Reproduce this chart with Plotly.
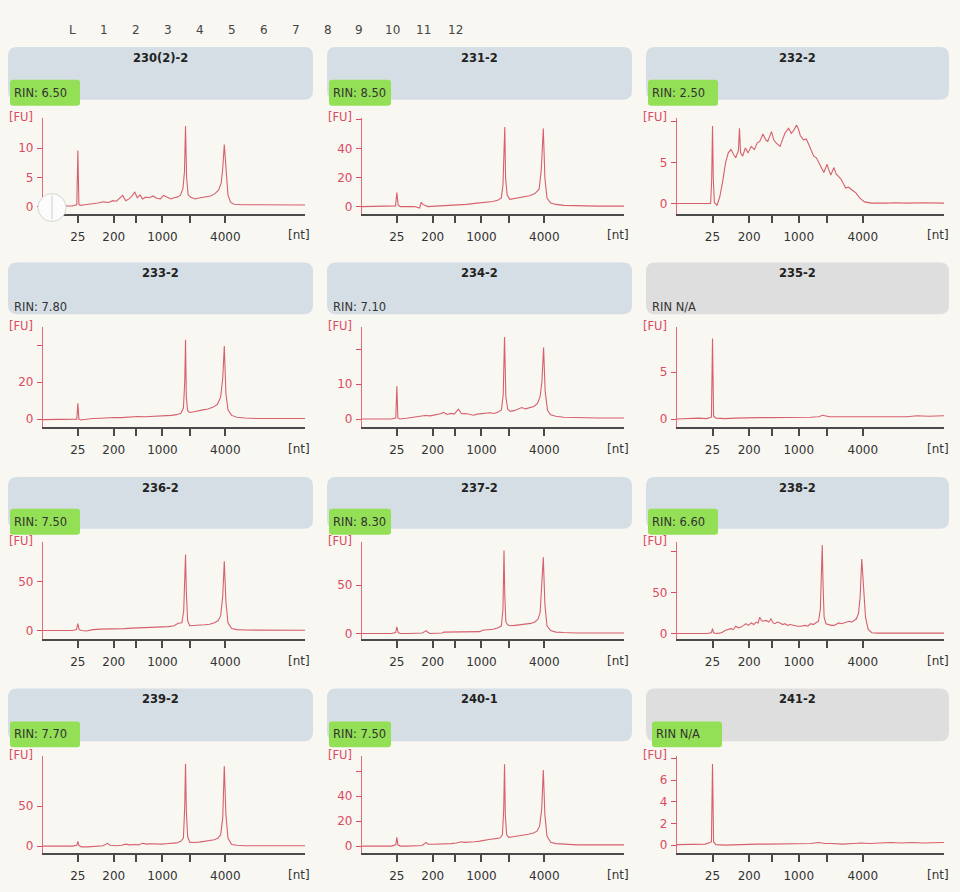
import plotly.graph_objects as go

# ---------------- data ----------------
LANES = ["L", "1", "2", "3", "4", "5", "6", "7", "8", "9", "10", "11", "12"]
TITLES = ["230(2)-2", "231-2", "232-2", "233-2", "234-2", "235-2",
          "236-2", "237-2", "238-2", "239-2", "240-1", "241-2"]
RIN = ["RIN: 6.50", "RIN: 8.50", "RIN: 2.50", "RIN: 7.80", "RIN: 7.10", "RIN N/A",
       "RIN: 7.50", "RIN: 8.30", "RIN: 6.60", "RIN: 7.70", "RIN: 7.50", "RIN N/A"]
HIGHLIGHT = [1, 1, 1, 0, 0, 0, 1, 1, 1, 1, 1, 1]

# ladder: size [nt] vs migration time [s]
LADDER_NT = [25, 200, 500, 1000, 2000, 4000]
LADDER_TIME = [25.65, 32.5, 36.7, 41.8, 47.1, 53.8]
LADDER_LABEL = ["25", "200", "", "1000", "", "4000"]

# y axis ranges and ticks per panel
Y_RANGE = [(-1.2, 15.2), (-4.8, 61.4), (-1.22, 10.5),
           (-4.3, 49.7), (-2.3, 26.3), (-0.85, 9.8),
           (-8.2, 91), (-5.2, 95), (-6.1, 112),
           (-8.75, 112.5), (-5.6, 72), (-0.73, 8.2)]
Y_TICKS = [[0, 5, 10], [0, 20, 40, 60], [0, 5, 10],
           [0, 20, 40], [0, 10, 20], [0, 5],
           [0, 50], [0, 50], [0, 50, 100],
           [0, 50], [0, 20, 40, 60], [0, 2, 4, 6, 8]]
Y_TEXT = [["0", "5", "10"], ["0", "20", "40", ""], ["0", "5", ""],
          ["0", "20", ""], ["0", "10", ""], ["0", "5"],
          ["0", "50"], ["0", "50"], ["0", "50", ""],
          ["0", "50"], ["0", "20", "40", ""], ["0", "2", "4", "6", ""]]

# electropherograms: time [s] and fluorescence [FU]
T1 = [19, 24.6, 25.45, 25.65, 25.85, 26.1, 27.0, 28.0, 29.5, 30.5, 31.5, 32.3, 33.0, 33.6, 34.2, 34.8,
      35.4, 36.0, 36.5, 37.0, 37.5, 38.0, 38.6, 39.3, 40.0, 40.7, 41.4, 42.0, 42.7, 43.4, 44.0, 44.6,
      45.2, 45.7, 46.0, 46.2, 46.4, 46.7, 47.2, 48.0, 49.0, 50.0, 51.0, 51.8, 52.5, 53.0, 53.3, 53.6,
      53.9, 54.3, 54.8, 55.5, 57.0, 60.0, 64.0, 69.0]
V1 = [0.1, 0.1, 0.3, 9.6, 0.4, 0.2, 0.3, 0.4, 0.6, 0.8, 0.7, 1.0, 0.9, 1.4, 1.9, 1.0,
      1.3, 1.8, 2.5, 1.5, 2.0, 1.3, 1.6, 1.5, 1.8, 1.4, 1.3, 1.9, 1.6, 1.3, 1.5, 1.6,
      1.9, 3.0, 6.0, 13.8, 5.0, 2.0, 1.6, 1.3, 1.5, 1.6, 1.8, 2.2, 2.8, 4.0, 6.5, 10.6,
      6.0, 2.0, 0.7, 0.4, 0.3, 0.3, 0.25, 0.25]

T2 = [19, 24.0, 25.4, 25.65, 25.9, 26.3, 27.5, 29.0, 30.0, 30.3, 30.6, 31.0, 31.6, 33.0, 34.5, 36.0,
      37.5, 39.0, 40.5, 41.8, 43.0, 44.0, 45.0, 45.6, 45.9, 46.1, 46.25, 46.4, 46.7, 47.2, 48.0, 49.0,
      50.0, 51.0, 52.0, 52.8, 53.2, 53.6, 53.9, 54.3, 55.0, 56.0, 57.5, 60.0, 64.0, 69.0]
V2 = [0.0, 0.0, 0.5, 9.7, 1.0, 0.0, 0.0, 0.0, -1.0, 3.0, 1.5, 1.0, 0.0, 0.3, 0.5, 1.0,
      1.3, 1.5, 2.2, 2.8, 3.5, 3.5, 4.5, 6.0, 15, 48, 55, 20, 8, 5.0, 5.5, 6.0,
      6.5, 7.5, 9.0, 12, 25, 54, 20, 6, 2.5, 1.5, 0.8, 0.5, 0.3, 0.3]

T3 = [19, 22, 25.3, 25.5, 25.65, 25.8, 26.0, 26.5, 27.0, 27.5, 28.1, 28.6, 29.1, 29.6, 30.0, 30.5,
      30.7, 30.9, 31.3, 31.8, 32.3, 32.9, 33.5, 34.0, 34.5, 35.1, 35.6, 36.0, 36.4, 36.7, 37.1, 37.6,
      38.3, 38.8, 39.2, 39.9, 40.4, 40.8, 41.4, 41.8, 42.1, 42.7, 43.2, 43.7, 44.2, 44.6, 45.1, 45.6,
      46.0, 46.2, 46.5, 47.1, 47.5, 47.8, 48.4, 48.8, 49.0, 49.7, 50.2, 50.6, 51.1, 51.6, 52.1, 52.5,
      53.2, 54.1, 55.4, 58, 60, 62, 65, 69]
V3 = [0.0, 0.0, 0.0, 3.0, 9.5, 3.0, 0.1, -0.2, 0.8, 2.5, 5.0, 6.2, 6.6, 6.0, 5.6, 6.5,
      9.2, 6.2, 5.8, 6.8, 6.2, 7.0, 6.6, 7.4, 7.6, 8.5, 7.8, 7.6, 8.2, 8.8, 7.8, 7.4,
      7.0, 8.0, 8.6, 9.2, 8.6, 8.9, 9.6, 9.0, 8.3, 7.8, 7.9, 7.2, 6.5, 5.8, 5.6, 5.0,
      4.6, 4.2, 3.8, 4.8, 4.0, 3.5, 4.4, 3.6, 3.5, 3.0, 2.4, 1.9, 2.0, 1.8, 1.5, 1.3,
      0.7, 0.2, 0.05, 0.05, 0.1, 0.05, 0.1, 0.05]

T4 = [19, 24.5, 25.45, 25.65, 25.85, 26.2, 27.5, 28.5, 30.0, 31.5, 32.5, 34.0, 35.5, 37.0, 38.5, 40.0,
      41.5, 42.5, 43.5, 44.5, 45.3, 45.8, 46.05, 46.2, 46.35, 46.6, 47.0, 47.6, 48.5, 49.5, 50.5, 51.5,
      52.3, 52.9, 53.3, 53.6, 53.9, 54.3, 55.0, 56.0, 57.5, 60.0, 64.0, 69.0]
V4 = [-0.3, -0.3, 0.0, 8.6, 0.0, -0.5, 0.0, 0.3, 0.5, 0.8, 0.9, 0.8, 1.2, 1.4, 1.3, 1.5,
      1.7, 1.6, 2.0, 2.4, 3.2, 6.0, 20, 43, 12, 4.5, 3.6, 3.8, 4.5, 5.0, 5.5, 6.5,
      8.0, 12.0, 22, 39.5, 14, 5, 2.0, 1.0, 0.6, 0.3, 0.3, 0.3]

T5 = [19, 24.6, 25.45, 25.65, 25.85, 26.2, 27.5, 29.0, 30.0, 31.0, 32.0, 33.0, 34.0, 34.6, 35.2, 36.0,
      36.6, 37.4, 38.0, 38.8, 39.5, 40.3, 41.0, 41.8, 42.6, 43.4, 44.2, 45.0, 45.6, 45.95, 46.2, 46.45,
      46.8, 47.3, 48.0, 48.8, 49.5, 50.2, 51.0, 51.8, 52.5, 53.0, 53.35, 53.65, 53.95, 54.4, 55.0, 56.0,
      57.5, 60.0, 64.0, 69.0]
V5 = [0.0, 0.0, 0.3, 9.4, 0.3, 0.0, 0.2, 0.6, 0.7, 1.0, 0.9, 1.1, 1.5, 1.9, 1.3, 1.6,
      1.4, 2.8, 1.5, 1.6, 1.3, 1.1, 1.4, 1.5, 1.7, 1.8, 1.6, 2.0, 2.6, 7.0, 23.5, 6.5,
      2.8, 2.2, 2.4, 2.9, 3.3, 2.9, 3.2, 3.6, 4.5, 6.5, 11, 20.5, 8.0, 2.5, 1.2, 0.8,
      0.5, 0.4, 0.3, 0.3]

T6 = [19, 21, 23, 24.5, 25.45, 25.65, 25.85, 26.3, 28, 30, 32, 34, 36, 38, 40, 42,
      44, 45.5, 46.3, 47.5, 50, 52, 54, 56, 58, 60, 62, 64, 66, 69]
V6 = [0.0, 0.05, 0.1, 0.05, 0.2, 8.6, 0.3, 0.1, 0.05, 0.1, 0.15, 0.15, 0.15, 0.15, 0.2, 0.2,
      0.2, 0.25, 0.4, 0.25, 0.25, 0.3, 0.3, 0.25, 0.3, 0.3, 0.25, 0.35, 0.3, 0.35]

T7 = [19, 24.6, 25.4, 25.65, 25.9, 26.3, 27.3, 28.5, 30.0, 31.5, 33.0, 34.5, 36.0, 37.5, 39.0, 40.5,
      41.8, 43.0, 44.0, 44.8, 45.5, 45.85, 46.05, 46.2, 46.35, 46.6, 47.0, 47.8, 48.8, 49.8, 50.8, 51.7,
      52.4, 52.9, 53.3, 53.6, 53.9, 54.3, 55.0, 56.0, 57.5, 60.0, 64.0, 69.0]
V7 = [0.0, 0.0, 1.0, 7.0, 1.0, 0.0, -0.5, 1.0, 1.5, 1.5, 1.8, 2.0, 2.5, 3.0, 3.0, 3.5,
      3.8, 4.0, 5.0, 7.5, 8.0, 20, 60, 78, 40, 10, 5.0, 5.5, 6.0, 6.0, 6.5, 8.0,
      10, 15, 35, 71, 30, 8.0, 2.0, 1.0, 0.5, 0.3, 0.3, 0.3]

T8 = [19, 24.6, 25.4, 25.65, 25.9, 26.3, 28.0, 30.5, 31.3, 31.6, 32.0, 33.0, 34.3, 34.6, 36.0, 38.0,
      40.0, 41.5, 42.0, 43.0, 44.0, 45.0, 45.6, 45.9, 46.1, 46.25, 46.45, 46.8, 47.3, 48.2, 49.2, 50.2,
      51.2, 52.0, 52.6, 53.0, 53.3, 53.6, 53.9, 54.3, 55.0, 56.0, 57.5, 60.0, 64.0, 69.0]
V8 = [0.0, 0.0, 1.0, 7.0, 1.0, 0.0, 0.0, 0.5, 3.0, 1.0, 0.0, 0.2, 0.5, 1.5, 1.5, 1.6,
      1.8, 2.0, 3.5, 4.0, 4.5, 6.0, 8.0, 25, 86, 40, 12, 9.0, 8.0, 8.5, 9.0, 9.5,
      10.5, 12, 15, 22, 45, 79, 30, 8.0, 3.0, 1.5, 1.0, 0.5, 0.5, 0.5]

T9 = [19, 24.6, 25.45, 25.65, 25.85, 26.3, 27.0, 27.5, 28.1, 28.6, 29.1, 29.6, 30.0, 30.5, 31.0, 31.5,
      31.9, 32.4, 32.9, 33.4, 33.8, 34.2, 34.5, 34.8, 35.1, 35.7, 36.2, 36.6, 37.0, 37.3, 37.8, 38.3,
      38.8, 39.2, 39.7, 40.2, 40.7, 41.1, 41.6, 42.1, 42.6, 43.0, 43.5, 44.0, 44.5, 45.0, 45.5, 45.85,
      46.05, 46.2, 46.35, 46.55, 46.9, 47.4, 47.9, 48.4, 48.9, 49.3, 49.8, 50.3, 50.8, 51.2, 51.7, 52.2,
      52.6, 53.0, 53.3, 53.6, 53.9, 54.3, 54.8, 55.5, 56.5, 58.0, 61.0, 65.0, 69.0]
V9 = [0, 0, 1, 6, 1, 0, 0.5, 1.5, 4, 5, 6, 5, 9, 7, 8, 10,
      12, 10, 13, 11, 14, 13, 20, 16, 15, 16, 14, 18, 13, 12, 14, 13,
      11, 12, 10, 11, 10, 10, 9, 9, 10, 10, 9, 12, 11, 13, 15, 30,
      90, 108, 60, 20, 12, 11, 10, 10, 12, 13, 12, 13, 14, 15, 14, 16,
      18, 25, 45, 91, 60, 20, 5, 1, 0.5, 0.5, 0.5, 0.5, 0.5]

T10 = [19, 24.6, 25.45, 25.65, 25.85, 26.3, 27.5, 29.0, 30.5, 31.3, 31.8, 33.0, 34.0, 34.8, 35.5, 36.5,
       37.2, 38.0, 38.8, 39.5, 40.5, 41.5, 42.5, 43.5, 44.5, 45.3, 45.8, 46.05, 46.2, 46.35, 46.6, 47.0,
       47.8, 48.8, 49.8, 50.8, 51.7, 52.4, 52.9, 53.3, 53.6, 53.9, 54.3, 55.0, 56.0, 57.5, 60.0, 64.0, 69.0]
V10 = [0, 0, 1, 6, 1, -1, -1, 0, 0.5, 3.5, 1, 0.5, 1, 2.5, 1.5, 2,
       1.5, 3.5, 2.5, 3, 2.5, 2.5, 3, 3.5, 4, 6, 10, 50, 103, 45, 12, 5,
       4.5, 5, 6, 7, 8, 10, 14, 35, 100, 40, 10, 2, 1, 0.5, 0.5, 0.5, 0.5]

T11 = [19, 24.6, 25.45, 25.65, 25.85, 26.3, 27.5, 29.0, 30.5, 31.2, 31.6, 32.5, 34.0, 35.0, 36.0, 37.0,
       38.0, 38.5, 39.5, 40.5, 41.5, 42.5, 43.5, 44.5, 45.3, 45.8, 46.05, 46.2, 46.35, 46.6, 47.0, 47.8,
       48.8, 49.8, 50.8, 51.7, 52.4, 52.9, 53.3, 53.6, 53.9, 54.3, 55.0, 56.0, 57.5, 60.0, 64.0, 69.0]
V11 = [0, 0, 1, 7, 1, 0, 0, 0.5, 0.5, 3, 1.5, 1.5, 1.5, 2, 2, 2.5,
       3.5, 3, 3, 3.5, 4, 5, 5.5, 6, 6.5, 9, 30, 65.6, 25, 9, 7, 7.5,
       8, 8.5, 9.5, 10.5, 12, 16, 30, 61, 25, 8, 3, 2, 1.5, 1, 1, 1]

T12 = [19, 21, 23, 24.3, 25.45, 25.65, 25.85, 26.3, 28, 30, 32, 34, 36, 38, 40, 42,
       44, 45.5, 46.8, 48, 50, 52, 53.5, 55, 57, 59, 61, 63, 65, 67, 69]
V12 = [0.05, 0.05, 0.1, 0.1, 0.3, 7.5, 0.3, 0.05, 0.0, 0.05, 0.05, 0.1, 0.1, 0.1, 0.1, 0.1,
       0.15, 0.25, 0.15, 0.15, 0.1, 0.15, 0.2, 0.15, 0.2, 0.25, 0.2, 0.25, 0.2, 0.25, 0.25]

TIMES = [T1, T2, T3, T4, T5, T6, T7, T8, T9, T10, T11, T12]
VALUES = [V1, V2, V3, V4, V5, V6, V7, V8, V9, V10, V11, V12]

# ---------------- layout geometry (pixels) ----------------
W, H = 960, 892
def px(x): return x / W
def py(y): return 1 - y / H

COL_X0 = [43, 362, 677]
COL_X1 = [305, 624, 944]
ROW_TOP = [118, 328, 543, 758]
ROW_BOT = [214, 428, 640, 855]
BOX_X0 = [8, 327, 646]
BOX_X1 = [313, 632, 949]
BOX_Y0 = [47, 263, 478, 690]
BOX_Y1 = [100, 315, 530, 743]
LANE_X = [72, 104, 136, 168, 200, 232, 264, 296, 328, 359, 392, 423, 455]

FONT = "DejaVu Sans"
TRACE_C = "#d6606c"
RED = "#dc4a60"
AXIS_DARK = "#4a4a4a"
BG = "#f8f7f2"

def rounded_path(x0, y0, x1, y1, r=9):
    rx, ry = r / W, r / H
    X0, X1 = px(x0), px(x1)
    Yt, Yb = py(y0), py(y1)
    return (f"M {X0+rx},{Yt} L {X1-rx},{Yt} Q {X1},{Yt} {X1},{Yt-ry} "
            f"L {X1},{Yb+ry} Q {X1},{Yb} {X1-rx},{Yb} L {X0+rx},{Yb} "
            f"Q {X0},{Yb} {X0},{Yb+ry} L {X0},{Yt-ry} Q {X0},{Yt} {X0+rx},{Yt} Z")

fig = go.Figure()
shapes = []
annotations = []
layout = {}

for i in range(12):
    r, c = divmod(i, 3)
    n = "" if i == 0 else str(i + 1)
    xa, ya = "x" + n, "y" + n
    fig.add_trace(go.Scatter(x=TIMES[i], y=VALUES[i], mode="lines",
                             line=dict(color=TRACE_C, width=1.1),
                             xaxis=xa, yaxis=ya, hoverinfo="skip", showlegend=False))
    layout["xaxis" + n] = dict(
        domain=[px(COL_X0[c]), px(COL_X1[c])], range=[19, 69], anchor=ya,
        showgrid=False, zeroline=False, showline=True, linecolor=AXIS_DARK, linewidth=2,
        ticks="outside", ticklen=7, tickwidth=1.5, tickcolor=AXIS_DARK,
        tickvals=LADDER_TIME, ticktext=LADDER_LABEL, ticklabelstandoff=4,
        tickfont=dict(family=FONT, size=12, color="#333333"), fixedrange=True)
    layout["yaxis" + n] = dict(
        domain=[py(ROW_BOT[r]), py(ROW_TOP[r])], range=list(Y_RANGE[i]), anchor=xa,
        showgrid=False, zeroline=False, showline=True, linecolor="#e06a7a", linewidth=1.3,
        ticks="outside", ticklen=5, tickwidth=1.2, tickcolor=RED,
        tickvals=Y_TICKS[i], ticktext=Y_TEXT[i], ticklabelstandoff=1,
        tickfont=dict(family=FONT, size=12, color=RED), fixedrange=True)

    # header box
    box_col = "#dedede" if i in (5, 11) else "#d6dee5"
    shapes.append(dict(type="path", xref="paper", yref="paper", layer="below",
                       path=rounded_path(BOX_X0[c], BOX_Y0[r], BOX_X1[c], BOX_Y1[r]),
                       fillcolor=box_col, line=dict(width=0)))
    annotations.append(dict(x=px((BOX_X0[c] + BOX_X1[c]) / 2), y=py(BOX_Y0[r] + 11),
                            xref="paper", yref="paper", text="<b>" + TITLES[i] + "</b>",
                            showarrow=False, font=dict(family=FONT, size=11.5, color="#222222"),
                            xanchor="center", yanchor="middle"))
    rin_x = BOX_X0[c] + (8 if i == 11 else 4)
    if HIGHLIGHT[i]:
        wdt = 62 if c == 1 else 70
        shapes.append(dict(type="path", xref="paper", yref="paper", layer="below",
                           path=rounded_path(rin_x - 2, BOX_Y1[r] - 20, rin_x - 2 + wdt, BOX_Y1[r] + 6, r=3),
                           fillcolor="#93df55", line=dict(width=0)))
    annotations.append(dict(x=px(rin_x), y=py(BOX_Y1[r] - 7), xref="paper", yref="paper",
                            text=RIN[i], showarrow=False,
                            font=dict(family=FONT, size=11.5, color="#333333"),
                            xanchor="left", yanchor="middle"))
    # [FU] and [nt]
    annotations.append(dict(x=px(COL_X0[c] - 22), y=py(ROW_TOP[r] - 1), xref="paper", yref="paper",
                            text="[FU]", showarrow=False,
                            font=dict(family=FONT, size=11.5, color=RED),
                            xanchor="center", yanchor="middle"))
    annotations.append(dict(x=px(COL_X1[c] - 6), y=py(ROW_BOT[r] + 22), xref="paper", yref="paper",
                            text="[nt]", showarrow=False,
                            font=dict(family=FONT, size=12, color="#333333"),
                            xanchor="center", yanchor="middle"))

# lane labels on top
for lx, lab in zip(LANE_X, LANES):
    annotations.append(dict(x=px(lx), y=py(30), xref="paper", yref="paper", text=lab,
                            showarrow=False, font=dict(family=FONT, size=12, color="#444444"),
                            xanchor="center", yanchor="middle"))

# hole-punch mark on the scan (panel 1)
shapes.append(dict(type="circle", xref="paper", yref="paper", layer="above",
                   x0=px(38), x1=px(66), y0=py(222), y1=py(194),
                   fillcolor="#fcfcfc", line=dict(color="#d4d4d4", width=1)))
shapes.append(dict(type="line", xref="paper", yref="paper", layer="above",
                   x0=px(52), x1=px(52), y0=py(220), y1=py(196),
                   line=dict(color="#cccccc", width=1)))

fig.update_layout(width=W, height=H, margin=dict(l=0, r=0, t=0, b=0),
                  paper_bgcolor=BG, plot_bgcolor=BG, showlegend=False,
                  shapes=shapes, annotations=annotations, **layout)

fig.write_html("out.html", config={"displayModeBar": False},
               post_script="document.body.style.margin='0';document.body.style.overflow='hidden';")
